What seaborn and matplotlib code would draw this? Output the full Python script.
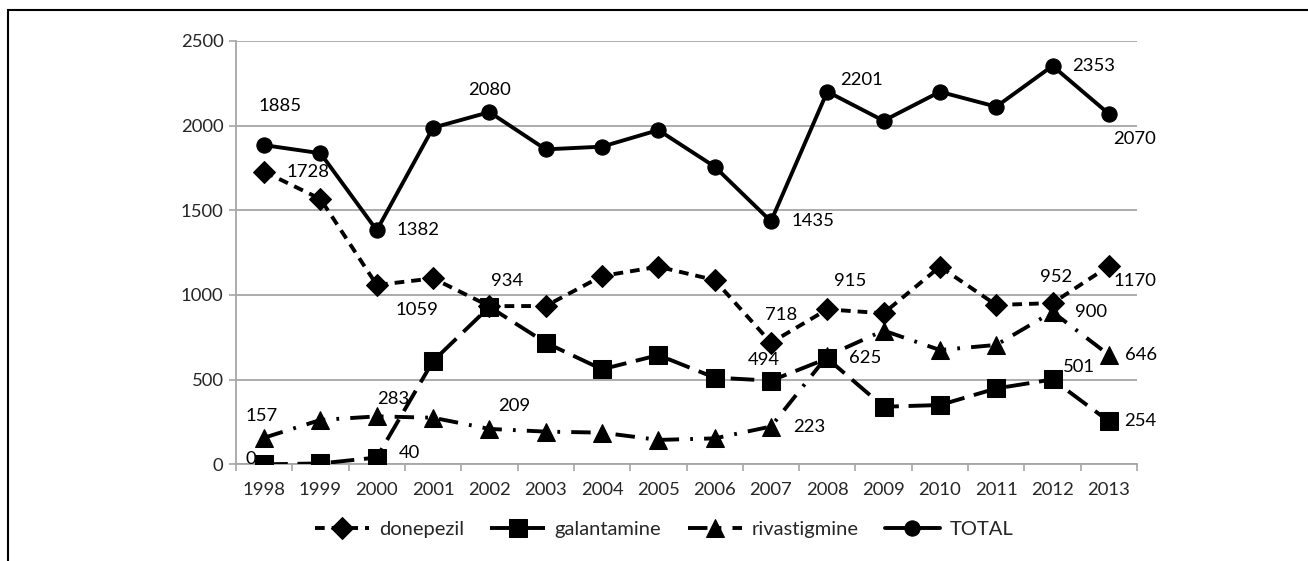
import matplotlib
matplotlib.use("Agg")
import matplotlib.pyplot as plt
import seaborn as sns
import pandas as pd
from matplotlib.patches import Rectangle

# Yearly prescription counts per drug
years = [1998, 1999, 2000, 2001, 2002, 2003, 2004, 2005,
         2006, 2007, 2008, 2009, 2010, 2011, 2012, 2013]
donepezil = [1728, 1567, 1059, 1098, 934, 935, 1112, 1167,
             1088, 718, 915, 892, 1167, 941, 952, 1170]
galantamine = [0, 5, 40, 610, 930, 718, 561, 645,
               512, 494, 625, 340, 350, 448, 501, 254]
rivastigmine = [157, 262, 283, 275, 209, 193, 187, 144,
                153, 223, 640, 790, 675, 705, 900, 646]
total = [1885, 1837, 1382, 1988, 2080, 1860, 1876, 1974,
         1758, 1435, 2201, 2029, 2200, 2112, 2353, 2070]

series_names = ["donepezil", "galantamine", "rivastigmine", "TOTAL"]
series_values = [donepezil, galantamine, rivastigmine, total]

# Which years carry a value label for each series, and the label offset (pixels)
label_offsets = {
    "donepezil": {1998: (44, 0), 2000: (40, -25), 2002: (18, 25), 2007: (10, 28),
                  2008: (23, 28), 2012: (4, 26), 2013: (26, -15)},
    "galantamine": {1998: (-13, 5), 2000: (33, 5), 2007: (-7, 21),
                    2008: (38, 0), 2012: (26, 12), 2013: (31, 0)},
    "rivastigmine": {1998: (-2, 22), 2000: (16, 17), 2002: (25, 23),
                     2007: (38, 0), 2012: (38, 0), 2013: (32, 0)},
    "TOTAL": {1998: (16, 39), 2000: (41, 0), 2002: (0, 22), 2007: (42, 0),
              2008: (34, 12), 2012: (41, 0), 2013: (26, -25)},
}

styles = {
    "donepezil": dict(marker="D", markersize=11, linestyle=(0, (7, 5)), zorder=3),
    "galantamine": dict(marker="s", markersize=13, linestyle=(0, (17, 7)), zorder=5),
    "rivastigmine": dict(marker="^", markersize=13, linestyle=(0, (14, 8, 2, 8)), zorder=4),
    "TOTAL": dict(marker="o", markersize=11, linestyle="-", zorder=6),
}

sns.set_theme(style="white")
plt.rcParams["font.family"] = ["Lato", "DejaVu Sans"]
plt.rcParams["lines.scale_dashes"] = False

fig = plt.figure(figsize=(13.08, 5.61), dpi=100)
ax = fig.add_axes([236 / 1308, 1 - 464.3 / 561, (1137 - 236) / 1308, (464.3 - 41) / 561])

pos = list(range(len(years)))
grid_color = "#A6A6A6"
fs = 13.3

for name, vals in zip(series_names, series_values):
    df = pd.DataFrame({"pos": pos, "value": vals})
    st = styles[name]
    sns.lineplot(data=df, x="pos", y="value", ax=ax, color="black", linewidth=2.8,
                 marker=st["marker"], markersize=st["markersize"],
                 markeredgecolor="black", markerfacecolor="black",
                 linestyle=st["linestyle"], zorder=st["zorder"], label=name)
    for yr, (dx, dy) in label_offsets[name].items():
        i = years.index(yr)
        ax.annotate(f"{vals[i]}", (pos[i], vals[i]), xytext=(dx, dy),
                    textcoords="offset pixels", ha="center", va="center",
                    fontsize=fs, color="black", zorder=8)

ax.set_xlim(-0.5, len(years) - 0.5)
ax.set_ylim(0, 2500)
ax.set_yticks(range(0, 2501, 500))
ax.set_xticks(pos)
ax.set_xticklabels([str(y) for y in years])
ax.set_xticks([p + 0.5 for p in pos[:-1]] + [-0.5, len(years) - 0.5], minor=True)
ax.tick_params(axis="x", which="major", length=0, pad=13, labelsize=fs)
ax.tick_params(axis="x", which="minor", length=5, width=1.2, color=grid_color,
               direction="out", bottom=True)
ax.tick_params(axis="y", which="major", length=5, width=1.2, color=grid_color,
               direction="out", left=True, pad=4, labelsize=fs)
ax.set_xlabel("")
ax.set_ylabel("")

ax.grid(axis="y", color=grid_color, linewidth=1.3)
ax.grid(axis="x", visible=False)
for side in ["top", "right"]:
    ax.spines[side].set_visible(False)
for side in ["left", "bottom"]:
    ax.spines[side].set_color(grid_color)
    ax.spines[side].set_linewidth(1.3)

handles, labels = ax.get_legend_handles_labels()
ax.get_legend().remove()
fig.legend(handles, labels, loc="center", ncol=4,
           bbox_to_anchor=(664 / 1308, 1 - 529 / 561), frameon=False,
           fontsize=14.5, handlelength=2.7, handletextpad=0.5, columnspacing=1.3)

# Outer chart frame
fig.patches.append(Rectangle((8 / 1308, -0.1), 1.2, 1 - 10 / 561 + 0.1,
                             transform=fig.transFigure, fill=False,
                             edgecolor="black", linewidth=1.5))

fig.savefig("out.png", dpi=100)
